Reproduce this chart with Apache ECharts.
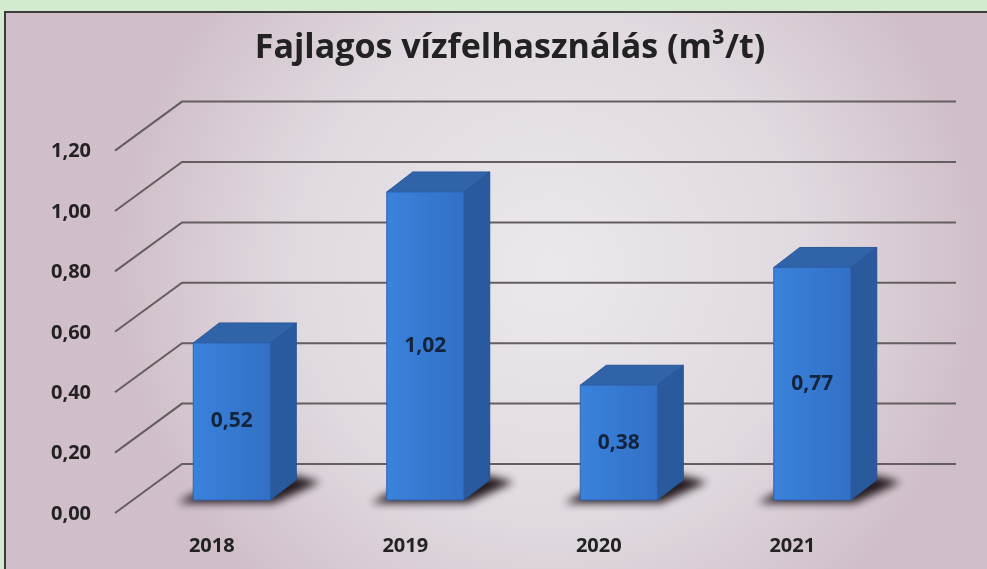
<!DOCTYPE html>
<html>
<head>
    <meta charset="utf-8" />
    <title>Fajlagos vízfelhasználás</title>
    <script type="text/javascript" src="https://cdn.jsdelivr.net/npm/echarts@6/dist/echarts.min.js"></script>
    <style>
        html, body { margin: 0; padding: 0; background: #d3ead0; }
        #main { width: 987px; height: 569px; }
    </style>
</head>
<body>
<div id="main"></div>
<script type="text/javascript">
    // adatok
    var years = ['2018', '2019', '2020', '2021'];
    var values = [0.52, 1.02, 0.38, 0.77];
    var yTicks = [0, 0.2, 0.4, 0.6, 0.8, 1.0, 1.2];

    var titleText = 'Fajlagos vízfelhasználás (m³/t)';
    var fontFam = '"Open Sans", Lato, sans-serif';

    // 3D hatás: mélység eltolás
    var depthX = 26, depthY = -20;
    var barW = 77;

    function fmt(v) {
        return v.toFixed(2).replace('.', ',');
    }

    var myChart = echarts.init(document.getElementById('main'));

    var option = {
        animation: false,
        backgroundColor: '#d3ead0',
        graphic: [
            {
                type: 'rect',
                z: -10,
                shape: { x: 5, y: 12, width: 990, height: 570 },
                style: {
                    fill: {
                        type: 'radial', x: 0.55, y: 0.45, r: 0.75,
                        colorStops: [
                            { offset: 0, color: '#ebe8ed' },
                            { offset: 0.6, color: '#e0d9e0' },
                            { offset: 1, color: '#d0bfca' }
                        ]
                    },
                    stroke: '#3a3a3a',
                    lineWidth: 2
                }
            },
            {
                type: 'text',
                z: 10,
                x: 510,
                y: 48,
                style: {
                    text: titleText,
                    align: 'center',
                    verticalAlign: 'middle',
                    font: 'bold 34px ' + fontFam,
                    fill: '#222222',
                    shadowColor: 'rgba(0,0,0,0.45)',
                    shadowBlur: 3,
                    shadowOffsetX: 2,
                    shadowOffsetY: 2
                }
            }
        ],
        grid: {
            left: 135,
            right: 78,
            top: 137.6,
            bottom: 69
        },
        xAxis: {
            type: 'category',
            data: years,
            axisLine: { show: false },
            axisTick: { show: false },
            axisLabel: {
                margin: 36,
                padding: [0, 40, 0, 0],
                fontFamily: fontFam,
                fontWeight: 'bold',
                fontSize: 20,
                color: '#222222'
            }
        },
        yAxis: {
            type: 'value',
            min: 0,
            max: 1.2,
            interval: 0.2,
            splitLine: { show: false },
            axisLine: { show: false },
            axisTick: { show: false },
            axisLabel: {
                margin: 44,
                verticalAlign: 'top',
                lineHeight: 28,
                fontFamily: fontFam,
                fontWeight: 'bold',
                fontSize: 20,
                color: '#222222',
                formatter: function (v) { return fmt(v); }
            }
        },
        series: [
            {
                // perspektivikus rácsvonalak
                type: 'custom',
                z: 1,
                silent: true,
                data: yTicks.map(function (v) { return [0, v]; }),
                renderItem: function (params, api) {
                    var cs = params.coordSys;
                    var p = api.coord([0, api.value(1)]);
                    var y = p[1];
                    return {
                        type: 'polyline',
                        shape: {
                            points: [
                                [cs.x - 20, y + 13],
                                [cs.x + 47, y - 36],
                                [cs.x + cs.width + 47, y - 36]
                            ]
                        },
                        style: { stroke: '#645e60', lineWidth: 2, fill: null }
                    };
                }
            },
            {
                type: 'custom',
                z: 3,
                data: years.map(function (y, i) { return [i, values[i]]; }),
                renderItem: function (params, api) {
                    var top = api.coord([api.value(0), api.value(1)]);
                    var base = api.coord([api.value(0), 0]);
                    var xl = top[0] - barW / 2, xr = top[0] + barW / 2;
                    var yt = top[1], yb = base[1];
                    var off = 3000;
                    return {
                        type: 'group',
                        children: [
                            {
                                // elmosott árnyék (csak a shadow látszik)
                                type: 'polygon',
                                shape: {
                                    points: [
                                        [xl - 16 - off, yb + 3], [xr + 4 - off, yb + 3],
                                        [xr + depthX + 24 - off, yb + depthY + 2],
                                        [xr + depthX - off, yb + depthY - 4],
                                        [xl + depthX - off, yb + depthY]
                                    ]
                                },
                                style: {
                                    fill: '#000',
                                    shadowColor: 'rgba(25,15,20,0.95)',
                                    shadowBlur: 9,
                                    shadowOffsetX: off,
                                    shadowOffsetY: 0
                                }
                            },
                            {
                                type: 'polygon',
                                shape: {
                                    points: [[xr, yt], [xr + depthX, yt + depthY], [xr + depthX, yb + depthY], [xr, yb]]
                                },
                                style: { fill: '#2a5a9e', stroke: '#24508e', lineWidth: 1 }
                            },
                            {
                                type: 'polygon',
                                shape: {
                                    points: [[xl, yt], [xl + depthX, yt + depthY], [xr + depthX, yt + depthY], [xr, yt]]
                                },
                                style: { fill: '#3163a8', stroke: '#2a5898', lineWidth: 1 }
                            },
                            {
                                type: 'rect',
                                shape: { x: xl, y: yt, width: barW, height: yb - yt },
                                style: {
                                    fill: {
                                        type: 'linear', x: 0, y: 0, x2: 1, y2: 0,
                                        colorStops: [
                                            { offset: 0, color: '#3a82dc' },
                                            { offset: 1, color: '#3270c6' }
                                        ]
                                    },
                                    stroke: '#2d64b0',
                                    lineWidth: 1
                                }
                            },
                            {
                                type: 'text',
                                x: top[0],
                                y: (yt + yb) / 2,
                                style: {
                                    text: fmt(api.value(1)),
                                    align: 'center',
                                    verticalAlign: 'middle',
                                    font: 'bold 21px ' + fontFam,
                                    fill: '#14243c'
                                }
                            }
                        ]
                    };
                }
            }
        ]
    };

    myChart.setOption(option);
</script>
</body>
</html>
